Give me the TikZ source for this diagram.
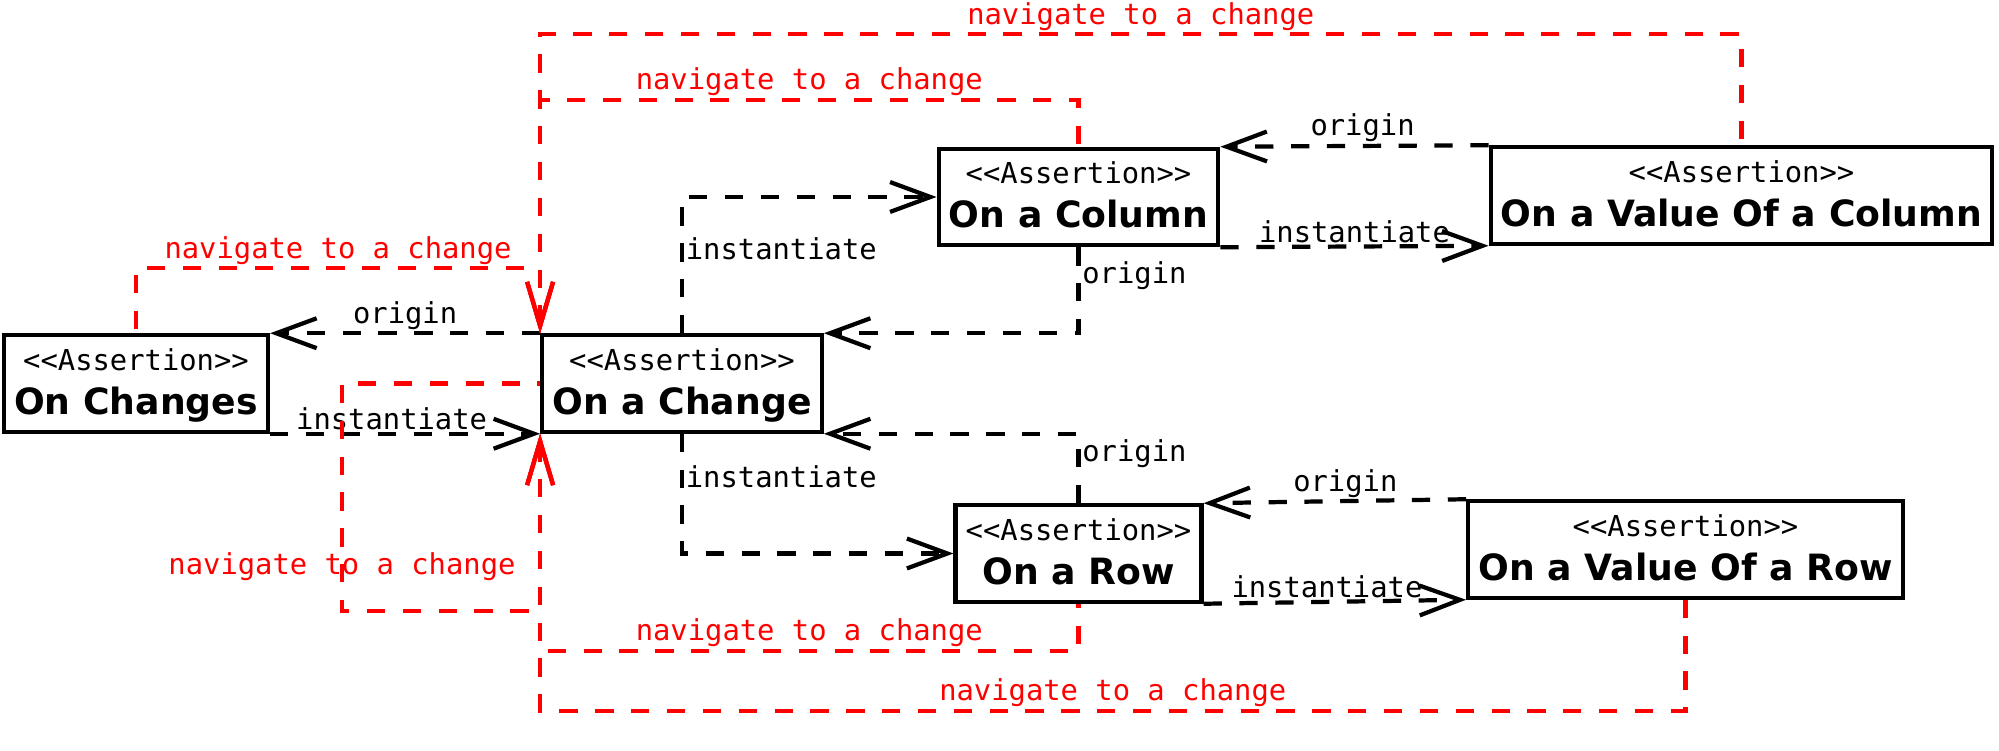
\documentclass[tikz,border=0pt]{standalone}
\usepackage{fontspec}
\setmainfont{DejaVu Sans}
\setmonofont{DejaVu Sans Mono}
\usetikzlibrary{arrows.meta}
\definecolor{NavRed}{HTML}{FF0000}
\newcommand{\lblsize}{\fontsize{8.2}{9.8}\selectfont}
\newcommand{\stereo}[1]{{\normalfont\ttfamily\lblsize <{}<#1>{}>}}

\begin{document}
\begin{tikzpicture}[
  box/.style={draw,line width=1.2pt,align=center,inner xsep=2.9pt,inner ysep=0pt,minimum height=27.4pt,font=\fontsize{10.3}{12.5}\selectfont\bfseries},
  dep/.style={line width=1.2pt,dash pattern=on 5.2pt off 5pt,-{Straight Barb[length=11.5pt,width=8.5pt]}},
  nav/.style={line width=1.2pt,dash pattern=on 5.2pt off 5pt,color=NavRed,{Straight Barb[length=12.5pt,width=7.4pt]}-},
  lbl/.style={font=\ttfamily\lblsize,inner sep=0.5pt}
]
\useasboundingbox (0,0) rectangle (19.99,-7.51);
\node[box] (chs) at (1.36,-3.835) {\strut\stereo{Assertion}\\On Changes\strut};
\node[box] (chg) at (6.82,-3.835) {\strut\stereo{Assertion}\\On a Change\strut};
\node[box] (col) at (10.785,-1.97) {\strut\stereo{Assertion}\\On a Column\strut};
\node[box] (vcol) at (17.415,-1.955) {\strut\stereo{Assertion}\\On a Value Of a Column\strut};
\node[box] (row) at (10.785,-5.535) {\strut\stereo{Assertion}\\On a Row\strut};
\node[box] (vrow) at (16.855,-5.495) {\strut\stereo{Assertion}\\On a Value Of a Row\strut};
% bends of the red links
\coordinate (chsup) at ([yshift=0.65cm]chs.north);
\coordinate (colup) at ([yshift=0.47cm]col.north);
\coordinate (vcolup) at ([yshift=1.11cm]vcol.north);
\coordinate (loopbl) at (3.42,-6.11);
\coordinate (rowdn) at ([yshift=-0.47cm]row.south);
\coordinate (vrowdn) at ([yshift=-1.11cm]vrow.south);
% origin / instantiate
\draw[dep] (chg.north west) -- node[lbl,above]{origin} (chs.north east);
\draw[dep] (chs.south east) -- node[lbl,above,pos=0.45]{instantiate} (chg.south west);
\draw[dep] (chg.north) |- node[lbl,right,pos=0.31]{instantiate} (col.west);
\draw[dep] (col.south) |- node[lbl,right,pos=0.165]{origin} (chg.north east);
\draw[dep] (vcol.north west) -- node[lbl,above,pos=0.47]{origin} (col.north east);
\draw[dep] (col.south east) -- node[lbl,above]{instantiate} (vcol.south west);
\draw[dep] (row.north) |- node[lbl,right,pos=0.36]{origin} (chg.south east);
\draw[dep] (chg.south) |- node[lbl,right,pos=0.18]{instantiate} (row.west);
\draw[dep] (vrow.north west) -- node[lbl,above,pos=0.46]{origin} (row.north east);
\draw[dep] (row.south east) -- node[lbl,above,pos=0.47]{instantiate} (vrow.south west);
% navigate to a change
\draw[nav] (chg.north west) |- node[lbl,above,pos=0.75]{navigate to a change} (chsup) -- (chs.north);
\draw[nav] (chg.north west) |- node[lbl,above,pos=0.75]{navigate to a change} (colup) -- (col.north);
\draw[nav] (chg.north west) |- node[lbl,above,pos=0.75]{navigate to a change} (vcolup) -- (vcol.north);
\draw[nav] (chg.south west) |- (loopbl) |- node[lbl,pos=0.097]{navigate to a change} (chg.west);
\draw[nav] (chg.south west) |- node[lbl,above,pos=0.75]{navigate to a change} (rowdn) -- (row.south);
\draw[nav] (chg.south west) |- node[lbl,above,pos=0.75]{navigate to a change} (vrowdn) -- (vrow.south);
\end{tikzpicture}
\end{document}
